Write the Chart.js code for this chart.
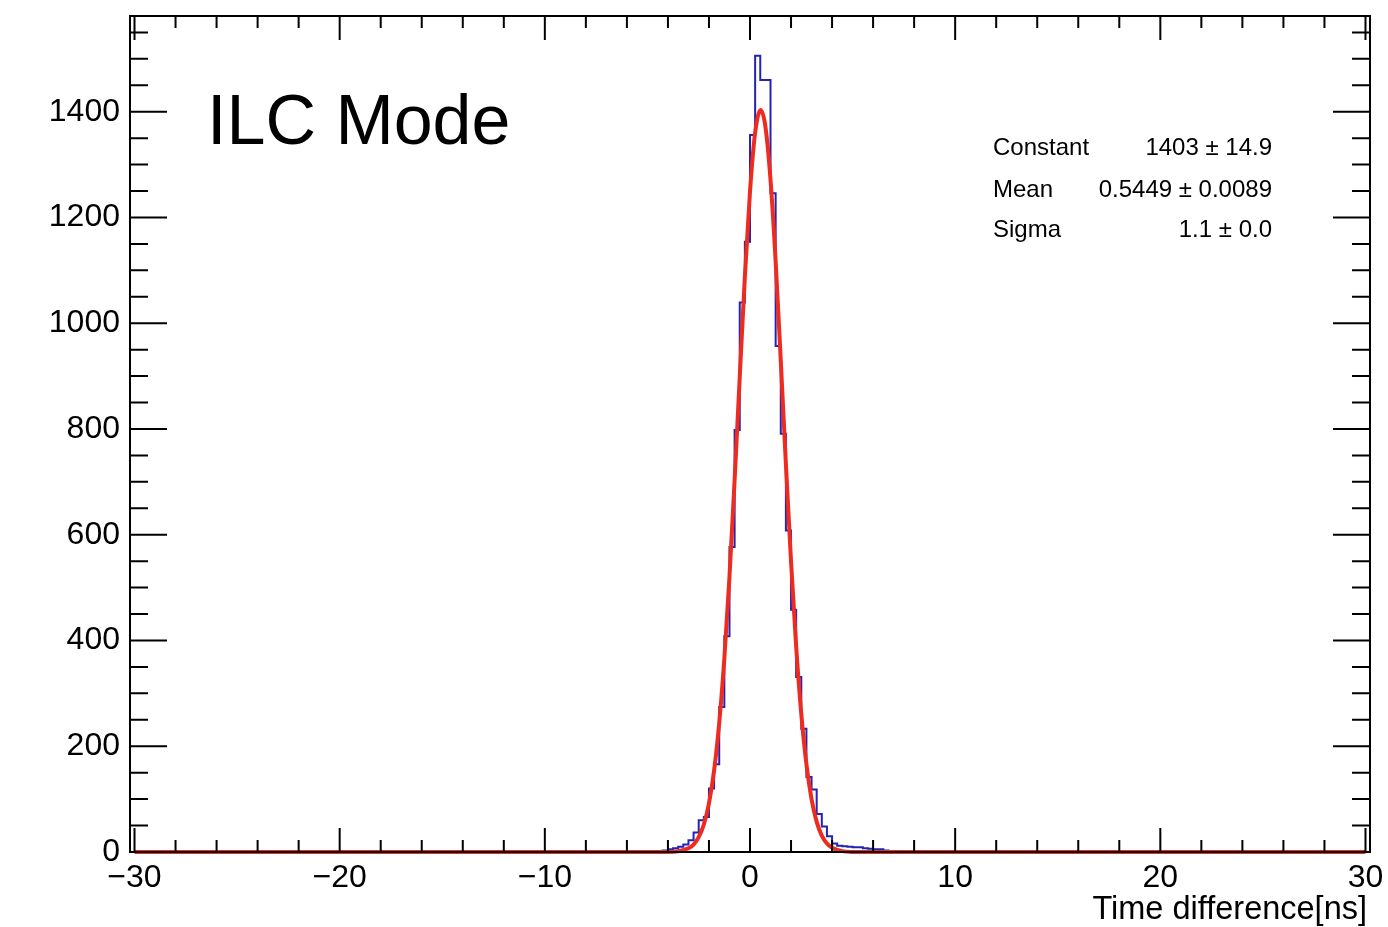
<!DOCTYPE html>
<html>
<head>
<meta charset="utf-8">
<title>ILC Mode - Time difference</title>
<script src="https://cdn.jsdelivr.net/npm/chart.js@4.4.1/dist/chart.umd.min.js"></script>
<style>
  html, body { margin: 0; padding: 0; background: #fff; }
  canvas { display: block; }
</style>
</head>
<body>
<canvas id="histChart" width="1388" height="927"></canvas>
<script>
// --- DATA ---
// Histogram: 0.25 ns bins, counts start at the bin whose left edge is binStart
const binWidth = 0.25;
const binStart = -4.75;
const counts = [
    1, 2, 3, 5, 7, 10, 14, 22, 37, 60,          // -4.75 .. -2.5
    66, 120, 166, 274, 408, 577, 798, 1039,     // -2.25 .. -0.5
    1154, 1356, 1506, 1460, 1460, 1246, 957,    // -0.25 .. 1.25
    791, 608, 458, 331, 233, 142, 118, 72,      // 1.5 .. 3.25
    48, 30, 16, 12, 11, 10, 9, 9, 7, 6, 5, 5,   // 3.5 .. 6.25
    3, 2, 1                                     // 6.5 .. 7.0
];

// Gaussian fit curve
const fitX = [-30, -5, -4.5, -4, -3.5, -3, -2.75, -2.5, -2.25, -2, -1.75, -1.5, -1.25, -1,
    -0.75, -0.5, -0.25, 0, 0.25, 0.52, 0.75, 1, 1.25, 1.5, 1.75, 2, 2.25, 2.5, 2.75,
    3, 3.25, 3.5, 3.75, 4, 4.5, 5, 6, 30];
const fitY = [0, 0, 0.2, 0.2, 1.4, 7, 14, 28, 52, 92, 154, 244, 366, 521,
    703, 898, 1088, 1249, 1360, 1403, 1372, 1271, 1117, 929, 733, 549, 389, 261, 166,
    100, 57, 31, 16, 8, 1.6, 0.2, 0, 0];

// Axis ticks
const xTickLabels = [-30, -20, -10, 0, 10, 20, 30];
const yTickLabels = [0, 200, 400, 600, 800, 1000, 1200, 1400];

// Fit box
const fitNames = ['Constant', 'Mean', 'Sigma'];
const fitValues = ['1403 \u00b1 14.9', '0.5449 \u00b1 0.0089', '1.1 \u00b1 0.0'];

const FONT = "'Liberation Sans', Arial, Helvetica, sans-serif";

// --- BUILD POINTS ---
const histPoints = [{ x: -30, y: 0 }];
counts.forEach((c, i) => histPoints.push({ x: binStart + i * binWidth, y: c }));
histPoints.push({ x: binStart + counts.length * binWidth, y: 0 });
histPoints.push({ x: 30, y: 0 });

const fitPoints = fitX.map((x, i) => ({ x: x, y: fitY[i] }));

// keep the frame where it is: no extra room for overhanging labels
function noLabelPadding(scale) {
    scale.paddingTop = 0;
    scale.paddingBottom = 0;
    scale.paddingLeft = 0;
    scale.paddingRight = 0;
}

// --- PLUGINS ---
// ROOT style frame with inward ticks on all four sides
const rootFrame = {
    id: 'rootFrame',
    afterDatasetsDraw(chart) {
        const { ctx, chartArea: a, scales: { x, y } } = chart;
        ctx.save();
        ctx.strokeStyle = '#000';
        ctx.lineWidth = 2;
        ctx.strokeRect(a.left, a.top, a.right - a.left, a.bottom - a.top);

        ctx.beginPath();
        for (let i = 0; i <= 30; i++) {
            const v = -30 + i * 2;
            const px = x.getPixelForValue(v);
            const len = v % 10 === 0 ? 24 : 12;
            ctx.moveTo(px, a.bottom);
            ctx.lineTo(px, a.bottom - len);
            ctx.moveTo(px, a.top);
            ctx.lineTo(px, a.top + len);
        }
        for (let v = 0; v <= 1550; v += 50) {
            const py = y.getPixelForValue(v);
            const len = v % 200 === 0 ? 37 : 18;
            ctx.moveTo(a.left, py);
            ctx.lineTo(a.left + len, py);
            ctx.moveTo(a.right, py);
            ctx.lineTo(a.right - len, py);
        }
        ctx.stroke();
        ctx.restore();
    },
    afterDraw(chart) {
        const ctx = chart.ctx;
        ctx.save();
        ctx.fillStyle = '#000';
        ctx.textBaseline = 'alphabetic';

        // title in the pad
        ctx.font = '70px ' + FONT;
        ctx.textAlign = 'left';
        ctx.fillText('ILC Mode', 207, 144);

        // fit parameters
        ctx.font = '24px ' + FONT;
        const rows = [155, 197, 237];
        fitNames.forEach((name, i) => {
            ctx.textAlign = 'left';
            ctx.fillText(name, 993, rows[i]);
            ctx.textAlign = 'right';
            ctx.fillText(fitValues[i], 1272, rows[i]);
        });

        // x axis title
        ctx.font = '32.5px ' + FONT;
        ctx.textAlign = 'right';
        ctx.fillText('Time difference[ns]', 1367, 919);
        ctx.restore();
    }
};

// --- CHART ---
const ctx = document.getElementById('histChart').getContext('2d');
new Chart(ctx, {
    type: 'line',
    data: {
        datasets: [
            {
                label: 'fit',
                data: fitPoints,
                borderColor: '#ee2b1f',
                borderWidth: 4,
                cubicInterpolationMode: 'monotone',
                pointRadius: 0,
                clip: 6,
                order: 0
            },
            {
                label: 'hist',
                data: histPoints,
                borderColor: '#2323b4',
                borderWidth: 2,
                stepped: true,
                pointRadius: 0,
                order: 1
            }
        ]
    },
    options: {
        responsive: false,
        animation: false,
        layout: { padding: { top: 16, right: 18, left: 0, bottom: 0 } },
        plugins: {
            legend: { display: false },
            tooltip: { enabled: false }
        },
        scales: {
            x: {
                type: 'linear',
                min: -30.22,
                max: 30.22,
                grid: { display: false, drawTicks: false },
                border: { display: false },
                afterBuildTicks: (scale) => { scale.ticks = xTickLabels.map(v => ({ value: v })); },
                afterFit: (scale) => { scale.height = 75; noLabelPadding(scale); },
                ticks: {
                    autoSkip: false,
                    maxRotation: 0,
                    padding: 7,
                    color: '#000',
                    font: { family: FONT, size: 32 },
                    callback: (v) => (v < 0 ? '\u2212' + Math.abs(v) : String(v))
                }
            },
            y: {
                type: 'linear',
                min: 0,
                max: 1581,
                grid: { display: false, drawTicks: false },
                border: { display: false },
                afterBuildTicks: (scale) => { scale.ticks = yTickLabels.map(v => ({ value: v })); },
                afterFit: (scale) => { scale.width = 130; noLabelPadding(scale); },
                ticks: {
                    autoSkip: false,
                    padding: 10,
                    color: '#000',
                    font: { family: FONT, size: 32 },
                    callback: (v) => String(v)
                }
            }
        }
    },
    plugins: [rootFrame]
});
</script>
</body>
</html>
